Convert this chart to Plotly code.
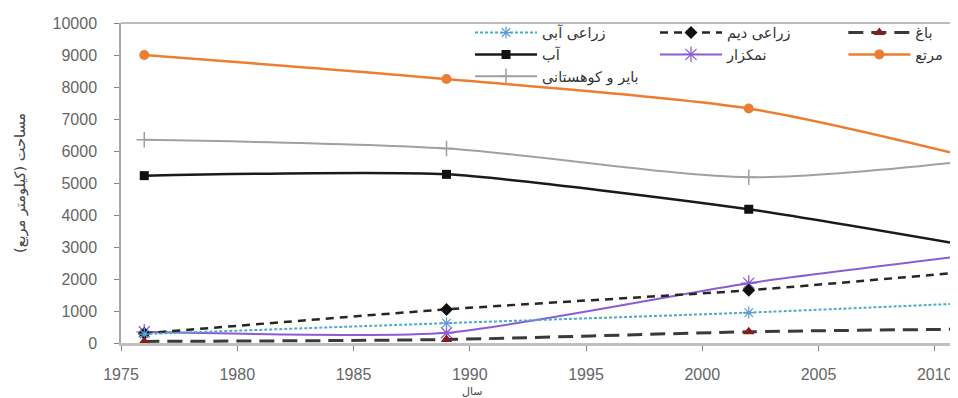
import plotly.graph_objects as go

years = [1976, 1989, 2002, 2011]

names = ["زراعی آبی", "آب", "بایر و کوهستانی", "زراعی دیم", "نمکزار", "باغ", "مرتع"]
abi = [280, 620, 950, 1230]          # زراعی آبی
ab = [5230, 5270, 4180, 3100]        # آب
bayer = [6350, 6080, 5180, 5650]     # بایر و کوهستانی
deym = [300, 1050, 1650, 2200]       # زراعی دیم
namakzar = [350, 320, 1870, 2700]    # نمکزار
bagh = [50, 110, 350, 430]           # باغ
marta = [9000, 8250, 7330, 5900]     # مرتع

x_ticks = [1975, 1980, 1985, 1990, 1995, 2000, 2005, 2010]
y_ticks = [0, 1000, 2000, 3000, 4000, 5000, 6000, 7000, 8000, 9000, 10000]

y_title = "مساحت (کیلومتر مربع)"
x_title = "سال"

FONT = "Liberation Sans, Arial, DejaVu Sans, sans-serif"
AR = "DejaVu Sans, Noto Sans, sans-serif"

fig = go.Figure()

def add(y, name, color, width, dash, symbol, msize, mcolor, legend, mline=0, mlcolor=None, smoothing=0.8):
    fig.add_trace(go.Scatter(
        x=years, y=y, name=name, mode="lines+markers",
        line=dict(color=color, width=width, dash=dash, shape="spline", smoothing=smoothing),
        marker=dict(symbol=symbol, size=msize, color=mcolor,
                    line=dict(width=mline, color=mlcolor or mcolor)),
        legend=legend,
    ))

# draw order: big ones first
add(marta, names[6], "#ED7D31", 2.5, "solid", "circle", 10, "#ED7D31", "legend3")
add(bayer, names[2], "#A0A0A0", 2, "solid", "cross-thin-open", 11, "#A0A0A0", "legend", 1.5)
add(ab, names[1], "#1A1A1A", 2.5, "solid", "square", 9, "#111111", "legend", smoothing=0.6)
add(namakzar, names[4], "#8C5BD6", 2, "solid", "asterisk-open", 13, "#8C5BD6", "legend2", 1.3, smoothing=0.6)
add(deym, names[3], "#262626", 2.5, "8px,6px", "diamond", 10, "#111111", "legend2")
add(abi, names[0], "#4BACC6", 2, "3px,2px", "asterisk-open", 10, "#5B9BD5", "legend", 1.2)
add(bagh, names[5], "#3A3A3A", 3, "15px,8px", "triangle-up", 10, "#8B1A1A", "legend3")

# reorder legend entries per column
legend_order = {names[0]: 1, names[1]: 2, names[2]: 3, names[3]: 1, names[4]: 2, names[5]: 1, names[6]: 2}
for tr in fig.data:
    tr.legendrank = legend_order[tr.name]

leg_common = dict(
    orientation="v", yanchor="top", y=1.02, xanchor="left",
    bgcolor="rgba(0,0,0,0)", itemwidth=62,
    font=dict(family=AR, size=14.5, color="#333333"),
    tracegroupgap=0, itemclick=False,
)

# the page places the figure 8px from the window's top-left corner
fig.update_layout(
    width=950, height=390,
    margin=dict(l=113, r=0, t=15, b=55),
    paper_bgcolor="white", plot_bgcolor="white",
    font=dict(family=FONT, size=16, color="#666666"),
    showlegend=True,
    legend=dict(x=0.417, **leg_common),
    legend2=dict(x=0.638, **leg_common),
    legend3=dict(x=0.863, **leg_common),
    xaxis=dict(
        range=[1975, 2011], tickvals=x_ticks, ticktext=[str(v) for v in x_ticks],
        showgrid=False, zeroline=False,
        showline=True, linecolor="#C0C0C0", linewidth=3,
        ticks="outside", ticklen=5, tickwidth=1, tickcolor="#808080",
        ticklabelstandoff=10,
        tickfont=dict(family=FONT, size=16, color="#666666"),
    ),
    yaxis=dict(
        range=[0, 10000], tickvals=y_ticks, ticktext=[str(v) for v in y_ticks],
        showgrid=False, zeroline=False,
        showline=True, linecolor="#A6A6A6", linewidth=1.5,
        ticks="outside", ticklen=5, tickwidth=1, tickcolor="#808080",
        ticklabelstandoff=14,
        tickfont=dict(family=FONT, size=16, color="#666666"),
    ),
    shapes=[dict(type="line", xref="paper", yref="paper", x0=0, x1=1, y0=1, y1=1,
                 line=dict(color="#A6A6A6", width=1.5))],
    annotations=[
        dict(text=y_title, xref="paper", yref="paper", x=-0.1207, y=0.5,
             textangle=-90, showarrow=False, xanchor="center", yanchor="middle",
             font=dict(family=AR, size=14.5, color="#444444")),
        dict(text=x_title, xref="paper", yref="paper", x=0.42, y=-0.15,
             showarrow=False, xanchor="center", yanchor="middle",
             font=dict(family=AR, size=11, color="#444444")),
    ],
)

fig.write_html("out.html")
